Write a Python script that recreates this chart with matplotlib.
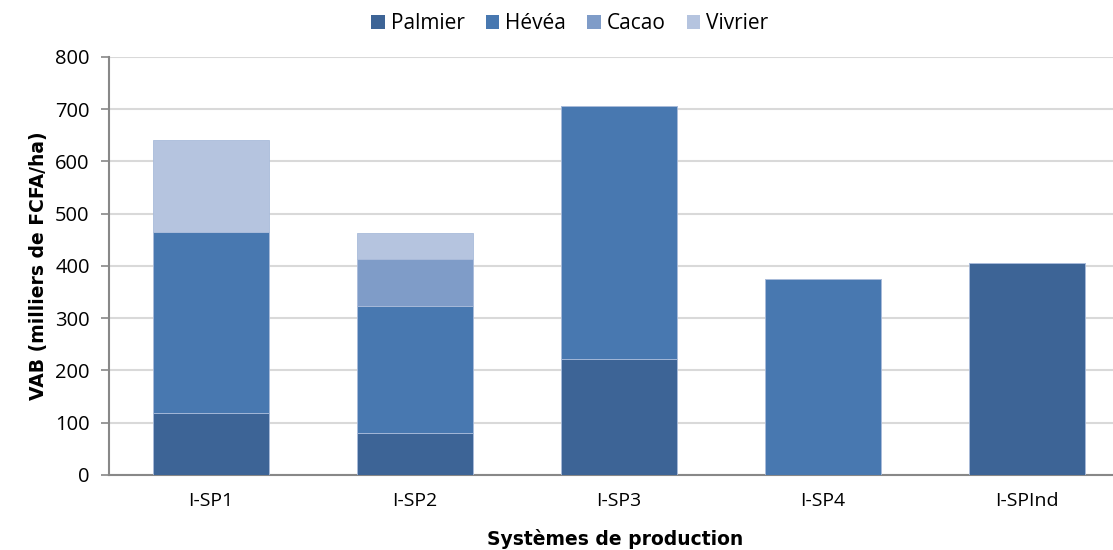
import numpy as np
import matplotlib
matplotlib.use("Agg")
import matplotlib.pyplot as plt
from matplotlib.patches import Patch

plt.rcParams["font.family"] = ["Open Sans", "DejaVu Sans"]

systems = ["I-SP1", "I-SP2", "I-SP3", "I-SP4", "I-SPInd"]
palmier = [118, 81, 222, 0, 406]
hevea = [347, 243, 485, 375, 0]
cacao = [0, 89, 0, 0, 0]
vivrier = [176, 50, 0, 0, 0]

series = [("Palmier", palmier, "#3D6496"),
          ("Hévéa", hevea, "#4878B0"),
          ("Cacao", cacao, "#7F9CC8"),
          ("Vivrier", vivrier, "#B5C4DF")]

fig = plt.figure(figsize=(11.13, 5.5), dpi=100)
ax = fig.add_axes([0.098, 0.1364, 0.91, 0.76])

x = np.arange(len(systems))
bottom = np.zeros(len(systems))
for name, vals, col in series:
    vals = np.array(vals, dtype=float)
    ax.bar(x, vals, 0.57, bottom=bottom, color=col, edgecolor="#A9BBDA",
           linewidth=0.6, zorder=3)
    bottom += vals

ax.set_xlim(-0.5, 4.465)
ax.set_ylim(0, 800)
ax.set_yticks(range(0, 801, 100))
ax.set_xticks(x)
ax.set_xticklabels(systems)
ax.yaxis.grid(True, color="#D9D9D9", linewidth=1.5, zorder=0)
ax.set_axisbelow(True)

for s in ["top", "right"]:
    ax.spines[s].set_visible(False)
for s in ["left", "bottom"]:
    ax.spines[s].set_color("#888888")
    ax.spines[s].set_linewidth(1.5)

ax.tick_params(axis="y", length=6, width=1.2, color="#888888", labelsize=14.5, pad=8)
ax.tick_params(axis="x", length=0, labelsize=14, pad=12)

ax.set_ylabel("VAB (milliers de FCFA/ha)", fontsize=13.5, fontweight="bold",
              family="DejaVu Sans", labelpad=5)
ax.set_xlabel("Systèmes de production", fontsize=13.5, fontweight="bold",
              family="DejaVu Sans", labelpad=14)

handles = [Patch(facecolor=c, label=n) for n, _, c in series]
fig.legend(handles=handles, loc="upper center", bbox_to_anchor=(0.512, 1.01),
           ncol=4, frameon=False, fontsize=15, handlelength=0.65, handleheight=0.65,
           handletextpad=0.3, columnspacing=1.0)

plt.savefig("out.png", dpi=100)
plt.close()
